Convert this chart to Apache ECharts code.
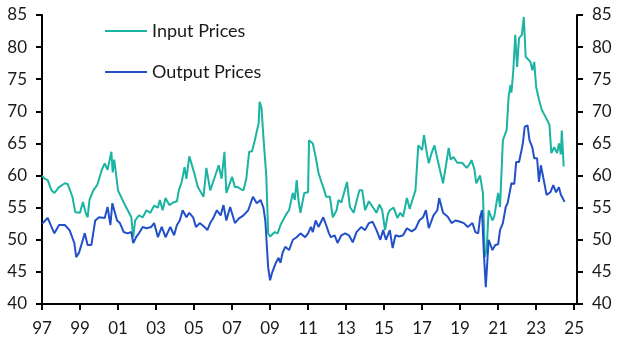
<!DOCTYPE html>
<html>
<head>
<meta charset="utf-8">
<script src="https://cdn.jsdelivr.net/npm/echarts@6/dist/echarts.min.js"></script>
<style>
  html, body { margin: 0; padding: 0; background: #fff; }
  #chart { width: 629px; height: 354px; }
</style>
</head>
<body>
<div id="chart"></div>
<script>
// decimal years, with index values
const inputYears = [1997.0, 1997.1, 1997.3, 1997.5, 1997.65, 1997.9, 1998.2, 1998.35, 1998.6, 1998.75, 1999.0, 1999.15, 1999.3, 1999.4, 1999.5, 1999.7, 1999.9, 2000.15, 2000.3, 2000.45, 2000.65, 2000.72, 2000.8, 2001.0, 2001.3, 2001.7, 2001.8, 2001.9, 2002.1, 2002.3, 2002.5, 2002.7, 2002.9, 2003.1, 2003.2, 2003.35, 2003.5, 2003.7, 2003.9, 2004.1, 2004.2, 2004.35, 2004.5, 2004.6, 2004.75, 2004.85, 2005.0, 2005.2, 2005.5, 2005.65, 2005.85, 2006.0, 2006.3, 2006.45, 2006.6, 2006.7, 2006.85, 2007.0, 2007.15, 2007.3, 2007.45, 2007.6, 2007.75, 2007.9, 2008.05, 2008.2, 2008.4, 2008.45, 2008.55, 2008.65, 2008.8, 2008.9, 2009.0, 2009.1, 2009.25, 2009.4, 2009.55, 2009.65, 2009.85, 2010.0, 2010.2, 2010.3, 2010.4, 2010.5, 2010.6, 2010.8, 2011.0, 2011.05, 2011.25, 2011.4, 2011.55, 2011.7, 2011.8, 2011.95, 2012.15, 2012.3, 2012.5, 2012.6, 2012.75, 2013.05, 2013.2, 2013.4, 2013.55, 2013.7, 2013.85, 2014.0, 2014.2, 2014.4, 2014.6, 2014.75, 2014.9, 2015.05, 2015.2, 2015.3, 2015.5, 2015.7, 2015.85, 2016.0, 2016.2, 2016.35, 2016.5, 2016.65, 2016.8, 2017.0, 2017.1, 2017.25, 2017.35, 2017.5, 2017.65, 2017.85, 2018.1, 2018.25, 2018.4, 2018.5, 2018.65, 2018.85, 2019.1, 2019.35, 2019.5, 2019.6, 2019.75, 2019.85, 2020.05, 2020.2, 2020.3, 2020.4, 2020.5, 2020.7, 2020.8, 2021.0, 2021.1, 2021.25, 2021.45, 2021.55, 2021.65, 2021.7, 2021.8, 2021.9, 2022.0, 2022.1, 2022.25, 2022.35, 2022.45, 2022.7, 2022.8, 2022.9, 2023.0, 2023.15, 2023.3, 2023.5, 2023.7, 2023.8, 2023.95, 2024.1, 2024.2, 2024.3, 2024.35, 2024.45]
const inputVals = [60.0, 59.6, 59.3, 57.7, 57.3, 58.2, 58.8, 58.7, 56.7, 54.3, 54.2, 55.9, 54.2, 53.5, 56.2, 57.7, 58.5, 60.9, 61.9, 60.9, 63.7, 60.5, 62.5, 57.7, 55.8, 53.5, 50.4, 53.0, 53.8, 53.5, 54.6, 54.2, 55.3, 55.0, 56.2, 54.6, 56.5, 55.4, 55.8, 56.0, 57.7, 59.0, 61.3, 59.5, 63.0, 62.9, 60.5, 58.2, 56.7, 61.2, 57.7, 59.0, 61.6, 59.5, 63.7, 57.3, 58.5, 59.8, 58.2, 58.2, 57.9, 57.7, 59.5, 63.7, 63.8, 65.5, 68.2, 71.5, 70.5, 66.0, 60.0, 51.0, 50.5, 50.3, 51.2, 51.0, 52.3, 52.6, 54.0, 54.6, 57.3, 56.2, 59.3, 56.0, 54.2, 57.3, 57.4, 65.5, 65.0, 62.9, 60.4, 59.0, 58.2, 56.7, 56.7, 53.5, 54.6, 56.2, 55.8, 59.0, 55.1, 54.2, 56.0, 57.7, 57.7, 54.6, 56.0, 55.1, 54.2, 55.5, 54.6, 51.5, 54.0, 54.6, 55.0, 53.4, 54.2, 53.6, 56.5, 54.8, 56.3, 57.7, 64.7, 64.0, 66.3, 63.5, 61.9, 63.5, 64.7, 62.0, 58.8, 61.5, 64.3, 62.5, 62.9, 62.0, 62.0, 61.2, 61.8, 62.4, 61.0, 58.8, 60.0, 57.3, 47.3, 48.5, 54.6, 53.0, 53.7, 57.3, 55.1, 65.5, 67.1, 72.2, 74.1, 72.9, 76.4, 81.9, 76.9, 81.4, 81.9, 84.7, 78.5, 77.7, 76.4, 77.7, 73.8, 71.8, 70.2, 69.1, 67.9, 63.5, 64.4, 63.5, 65.0, 63.3, 67.0, 61.4]

const outputYears = [1997.0, 1997.1, 1997.3, 1997.5, 1997.65, 1997.9, 1998.2, 1998.45, 1998.7, 1998.8, 1998.95, 1999.1, 1999.25, 1999.4, 1999.6, 1999.8, 2000.0, 2000.3, 2000.45, 2000.6, 2000.7, 2000.95, 2001.1, 2001.3, 2001.5, 2001.7, 2001.8, 2001.95, 2002.1, 2002.3, 2002.5, 2002.75, 2002.9, 2003.1, 2003.3, 2003.5, 2003.75, 2003.95, 2004.1, 2004.25, 2004.4, 2004.6, 2004.75, 2004.95, 2005.1, 2005.3, 2005.55, 2005.7, 2005.85, 2006.0, 2006.2, 2006.4, 2006.55, 2006.7, 2006.9, 2007.15, 2007.35, 2007.6, 2007.85, 2008.1, 2008.3, 2008.5, 2008.65, 2008.75, 2008.9, 2009.0, 2009.1, 2009.3, 2009.45, 2009.55, 2009.65, 2009.8, 2010.0, 2010.2, 2010.4, 2010.6, 2010.85, 2011.0, 2011.15, 2011.25, 2011.4, 2011.55, 2011.8, 2011.95, 2012.1, 2012.2, 2012.4, 2012.55, 2012.75, 2012.95, 2013.15, 2013.35, 2013.55, 2013.8, 2014.0, 2014.2, 2014.4, 2014.6, 2014.8, 2014.95, 2015.1, 2015.3, 2015.45, 2015.6, 2015.8, 2016.0, 2016.2, 2016.45, 2016.65, 2016.85, 2017.05, 2017.2, 2017.35, 2017.6, 2017.8, 2017.9, 2018.1, 2018.35, 2018.55, 2018.75, 2019.0, 2019.2, 2019.4, 2019.65, 2019.8, 2019.95, 2020.05, 2020.15, 2020.25, 2020.35, 2020.5, 2020.6, 2020.7, 2020.85, 2021.0, 2021.1, 2021.25, 2021.4, 2021.5, 2021.7, 2021.85, 2021.95, 2022.1, 2022.2, 2022.3, 2022.4, 2022.55, 2022.65, 2022.8, 2022.9, 2023.05, 2023.15, 2023.25, 2023.4, 2023.55, 2023.75, 2023.9, 2024.05, 2024.2, 2024.3, 2024.5]
const outputVals = [52.5, 52.3, 53.4, 52.0, 51.0, 52.3, 52.3, 51.5, 49.5, 47.3, 48.0, 49.5, 51.0, 49.2, 49.2, 53.0, 53.5, 53.4, 55.1, 52.3, 55.7, 53.0, 52.6, 51.2, 51.0, 51.2, 49.5, 50.4, 51.0, 52.0, 51.8, 52.0, 52.6, 50.4, 52.0, 50.4, 52.0, 50.7, 52.3, 53.0, 54.6, 53.5, 54.2, 53.5, 52.0, 52.6, 52.0, 51.5, 52.6, 53.3, 54.6, 53.8, 55.4, 53.0, 55.1, 52.6, 53.3, 53.8, 54.6, 56.7, 55.7, 56.2, 55.0, 53.0, 45.7, 43.7, 44.8, 46.4, 47.2, 46.4, 47.9, 48.9, 48.4, 50.0, 50.4, 51.0, 50.4, 51.0, 52.0, 51.2, 53.0, 52.0, 53.5, 52.3, 51.0, 50.4, 50.7, 49.5, 50.7, 51.0, 50.7, 49.6, 51.2, 52.0, 51.5, 52.6, 52.8, 51.5, 50.0, 51.5, 50.0, 51.5, 48.7, 50.7, 50.5, 50.7, 51.8, 51.3, 51.7, 53.0, 53.5, 54.6, 51.8, 53.8, 54.6, 56.5, 54.2, 53.6, 52.6, 53.0, 52.8, 52.6, 52.0, 52.6, 51.2, 51.0, 53.5, 54.6, 47.9, 42.6, 50.0, 50.0, 48.4, 49.2, 49.3, 51.5, 52.6, 55.1, 55.7, 58.8, 58.7, 62.1, 62.1, 63.5, 65.0, 67.6, 67.8, 65.5, 64.4, 62.7, 62.7, 59.0, 61.6, 59.3, 57.0, 57.4, 58.5, 57.4, 58.2, 57.0, 55.9]

const startYear = 1997
const yMin = 40
const yMax = 85

const chartInstance = echarts.init(document.getElementById('chart'))

const toPairs = (years, vals) => years.map((y, i) => [y - startYear, vals[i]])

const axisFont = {
  fontFamily: 'Lato, "Open Sans", sans-serif',
  fontSize: 17,
  color: '#1a1a1a'
}

const yAxisBase = {
  type: 'value',
  min: yMin,
  max: yMax,
  interval: 5,
  splitLine: { show: false },
  axisLine: { show: true, lineStyle: { color: '#000', width: 2 } },
  axisTick: { show: true, inside: false, length: 6, lineStyle: { color: '#000', width: 2 } },
  axisLabel: Object.assign({ margin: 15 }, axisFont)
}

const option = {
  animation: false,
  grid: { left: 42, right: 52, top: 15, bottom: 50, containLabel: false },
  legend: {
    orient: 'vertical',
    left: 105,
    top: 22,
    padding: 0,
    itemWidth: 42,
    itemHeight: 2,
    itemGap: 23,
    icon: 'rect',
    textStyle: { fontFamily: 'Lato, "Open Sans", sans-serif', fontSize: 18, color: '#1a1a1a' },
    data: ['Input Prices', 'Output Prices']
  },
  xAxis: {
    type: 'value',
    min: 0,
    max: 28.15,
    interval: 2,
    splitLine: { show: false },
    axisLine: { show: true, onZero: false, lineStyle: { color: '#000', width: 2 } },
    axisTick: { show: true, length: 6, lineStyle: { color: '#000', width: 2 } },
    axisLabel: Object.assign({
      margin: 16,
      showMaxLabel: false,
      formatter: (v) => String((v + startYear) % 100).padStart(2, '0')
    }, axisFont)
  },
  yAxis: [
    Object.assign({ position: 'left' }, yAxisBase),
    Object.assign({ position: 'right' }, yAxisBase)
  ],
  series: [
    {
      name: 'Input Prices',
      type: 'line',
      data: toPairs(inputYears, inputVals),
      symbol: 'none',
      lineStyle: { color: '#1bb3a1', width: 2 },
      itemStyle: { color: '#1bb3a1' },
      z: 2
    },
    {
      name: 'Output Prices',
      type: 'line',
      data: toPairs(outputYears, outputVals),
      symbol: 'none',
      lineStyle: { color: '#2150c8', width: 2 },
      itemStyle: { color: '#2150c8' },
      z: 3
    }
  ]
}

chartInstance.setOption(option)
</script>
</body>
</html>
